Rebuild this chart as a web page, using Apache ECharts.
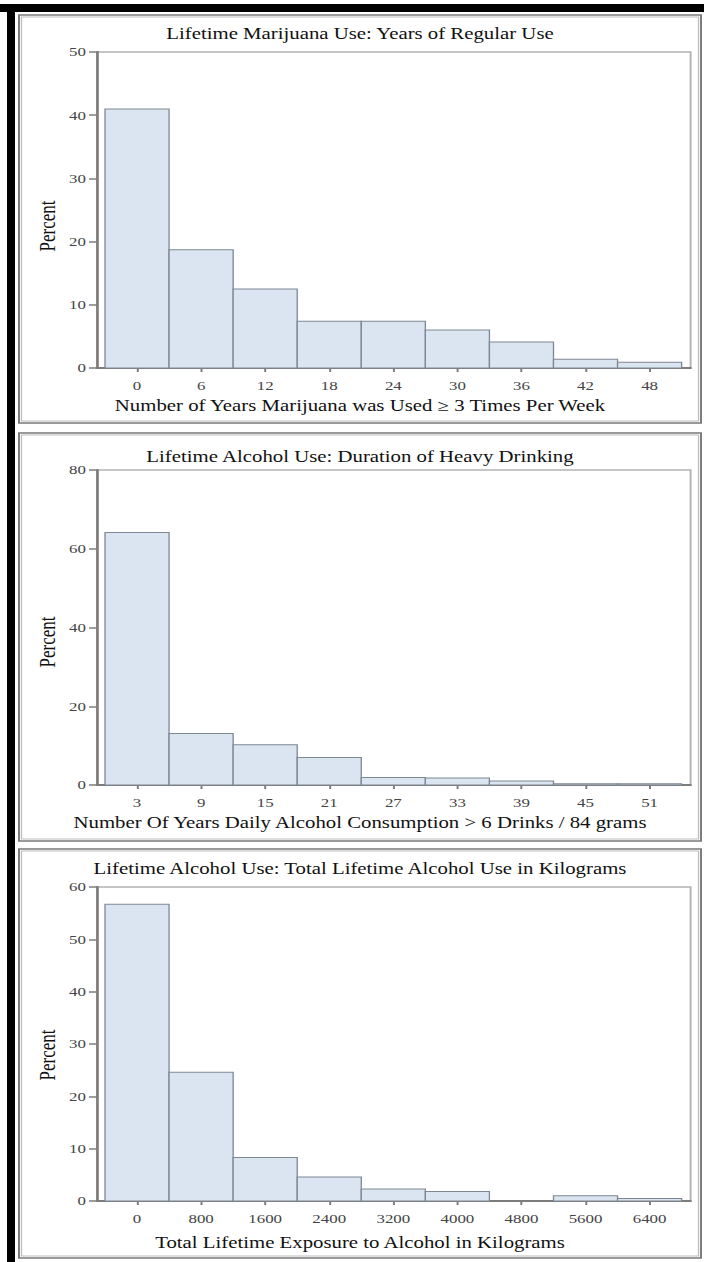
<!DOCTYPE html>
<html>
<head>
<meta charset="utf-8">
<script src="https://cdn.jsdelivr.net/npm/echarts@6/dist/echarts.min.js"></script>
<style>
  html, body { margin: 0; padding: 0; background: #fff; overflow: hidden; }
  #wrap { width: 704px; height: 1262px; overflow: hidden; }
  /* the figure is laid out narrow and widened horizontally */
  #chart { height: 1262px; transform-origin: 0 0; }
</style>
</head>
<body>
<div id="wrap"><div id="chart"></div></div>
<script>
// ---- data: histogram bin midpoints and percent of respondents ----
const marijuanaYears = [0, 6, 12, 18, 24, 30, 36, 42, 48];
const marijuanaPct   = [41.0, 18.7, 12.5, 7.4, 7.4, 6.0, 4.1, 1.4, 0.9];

const drinkingYears  = [3, 9, 15, 21, 27, 33, 39, 45, 51];
const drinkingPct    = [64.1, 13.1, 10.2, 7.0, 1.9, 1.8, 1.0, 0.3, 0.3];

const alcoholKg      = [0, 800, 1600, 2400, 3200, 4000, 4800, 5600, 6400];
const alcoholPct     = [56.7, 24.6, 8.3, 4.6, 2.3, 1.8, 0, 1.0, 0.5];

const percentTicks1  = [0, 10, 20, 30, 40, 50];
const percentTicks2  = [0, 20, 40, 60, 80];
const percentTicks3  = [0, 10, 20, 30, 40, 50, 60];

const titles = [
  'Lifetime Marijuana Use: Years of Regular Use',
  'Lifetime Alcohol Use: Duration of Heavy Drinking',
  'Lifetime Alcohol Use: Total Lifetime Alcohol Use in Kilograms'
];
const xNames = [
  'Number of Years Marijuana was Used \u2265 3 Times Per Week',
  'Number Of Years Daily Alcohol Consumption > 6 Drinks / 84 grams',
  'Total Lifetime Exposure to Alcohol in Kilograms'
];

// ---- layout ----
const STRETCH = 1.3;                 // horizontal widening of the whole figure
const PAGE_W = 704, PAGE_H = 1262;
const W = PAGE_W / STRETCH;
const px = v => v / STRETCH;         // page x -> drawing x

const el = document.getElementById('chart');
el.style.width = W + 'px';
el.style.transform = 'scaleX(' + STRETCH + ')';

const panels = [
  { frameTop: 15,  frameBottom: 423,  titleY: 33,  plotTop: 52,  plotBottom: 368,  nameY: 405,  percentY: 226 },
  { frameTop: 433, frameBottom: 841,  titleY: 456, plotTop: 470, plotBottom: 785,  nameY: 822,  percentY: 642 },
  { frameTop: 849, frameBottom: 1258, titleY: 868, plotTop: 887, plotBottom: 1201, nameY: 1242, percentY: 1055 }
];

const hists = [
  { mids: marijuanaYears, pct: marijuanaPct, bin: 6,   ticks: percentTicks1 },
  { mids: drinkingYears,  pct: drinkingPct,  bin: 6,   ticks: percentTicks2 },
  { mids: alcoholKg,      pct: alcoholPct,   bin: 800, ticks: percentTicks3 }
];

const SERIF = '"Liberation Serif", "Times New Roman", serif';
const AXIS_GREY = '#7c7c7c';
const LABEL_GREY = '#444';

// one rectangle per histogram bin, spanning the full bin width
function binRect(binWidth) {
  return function (params, api) {
    const mid = api.value(0), pct = api.value(1);
    if (!(pct > 0)) return null;
    const a = api.coord([mid - binWidth / 2, pct]);
    const b = api.coord([mid + binWidth / 2, 0]);
    return {
      type: 'rect',
      shape: { x: a[0], y: a[1], width: b[0] - a[0], height: b[1] - a[1] },
      style: { fill: '#dbe5f1', stroke: '#7d8894', lineWidth: 1 }
    };
  };
}

const graphic = [];
// heavy black rules along the top and left edge
graphic.push({ type: 'rect', shape: { x: 0, y: 4, width: W, height: 8 }, style: { fill: '#000' } });
graphic.push({ type: 'rect', shape: { x: px(7), y: 4, width: px(8), height: PAGE_H - 4 }, style: { fill: '#000' } });

panels.forEach((p, i) => {
  // double-ruled panel frame
  graphic.push({ type: 'rect', shape: { x: px(19), y: p.frameTop, width: px(682), height: p.frameBottom - p.frameTop },
    style: { fill: 'none', stroke: '#7a7a7a', lineWidth: 1.5 } });
  graphic.push({ type: 'rect', shape: { x: px(21.5), y: p.frameTop + 2, width: px(677), height: p.frameBottom - p.frameTop - 4 },
    style: { fill: 'none', stroke: '#bdbdbd', lineWidth: 1 } });
  // panel title
  graphic.push({ type: 'text', x: px(360), y: p.titleY,
    style: { text: titles[i], fontFamily: SERIF, fontSize: 16, fill: '#111', align: 'center', verticalAlign: 'middle' } });
  // horizontal axis title
  graphic.push({ type: 'text', x: px(360), y: p.nameY,
    style: { text: xNames[i], fontFamily: SERIF, fontSize: 16, fill: '#111', align: 'center', verticalAlign: 'middle' } });
  // vertical axis title
  graphic.push({ type: 'text', x: px(47), y: p.percentY, rotation: Math.PI / 2,
    style: { text: 'Percent', fontFamily: SERIF, fontSize: 17, fill: '#111', align: 'center', verticalAlign: 'middle' } });
});

const option = {
  animation: false,
  backgroundColor: '#fff',
  grid: panels.map(p => ({
    left: px(97), right: W - px(690), top: p.plotTop, height: p.plotBottom - p.plotTop,
    show: true, borderColor: '#b3b3b3', borderWidth: 1.5, backgroundColor: 'transparent'
  })),
  xAxis: hists.map((h, i) => ({
    type: 'value', gridIndex: i,
    min: h.mids[0] - h.bin * 0.625,
    max: h.mids[h.mids.length - 1] + h.bin * 0.64,
    axisLine: { show: true, onZero: false, lineStyle: { color: AXIS_GREY, width: 2 } },
    axisTick: { show: true, customValues: h.mids, length: 4, lineStyle: { color: AXIS_GREY, width: 1.5 } },
    axisLabel: { customValues: h.mids, margin: 11, color: LABEL_GREY, fontFamily: SERIF, fontSize: 13,
      formatter: v => String(v) },
    splitLine: { show: false }
  })),
  yAxis: hists.map((h, i) => ({
    type: 'value', gridIndex: i,
    min: h.ticks[0], max: h.ticks[h.ticks.length - 1], interval: h.ticks[1] - h.ticks[0],
    axisLine: { show: true, onZero: false, lineStyle: { color: AXIS_GREY, width: 2 } },
    axisTick: { show: true, length: px(8), lineStyle: { color: AXIS_GREY, width: 1.5 } },
    axisLabel: { margin: px(11), color: LABEL_GREY, fontFamily: SERIF, fontSize: 13 },
    splitLine: { show: false }
  })),
  series: hists.map((h, i) => ({
    type: 'custom', xAxisIndex: i, yAxisIndex: i,
    data: h.mids.map((m, k) => [m, h.pct[k]]),
    renderItem: binRect(h.bin),
    silent: true
  })),
  graphic: graphic
};

const chart = echarts.init(el, null, { renderer: 'svg' });
chart.setOption(option);
</script>
</body>
</html>
